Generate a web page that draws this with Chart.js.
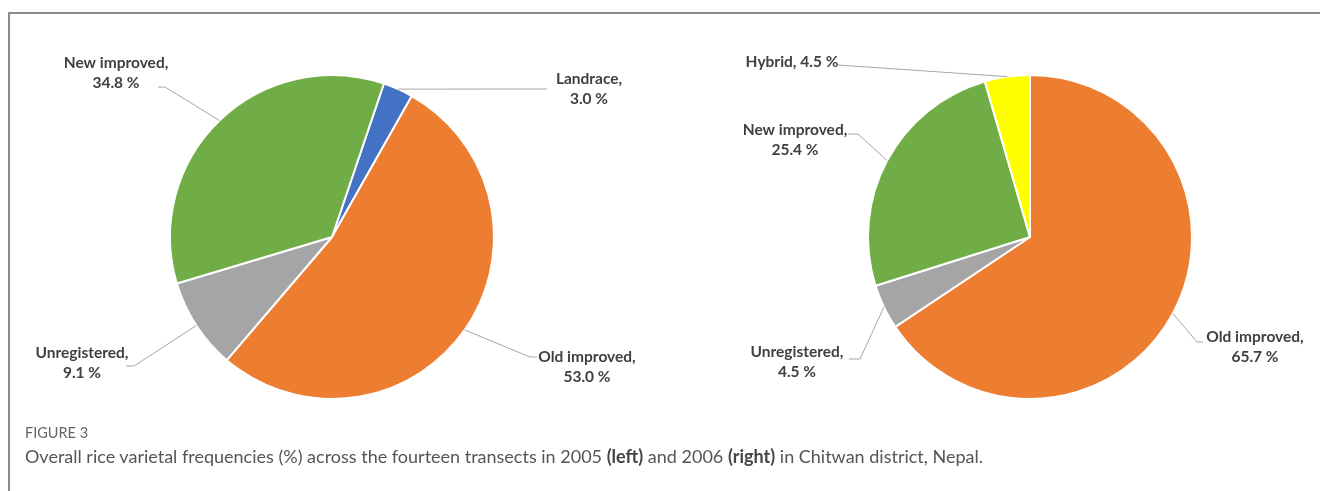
<!DOCTYPE html>
<html>
<head>
<meta charset="utf-8">
<title>Rice varietal frequencies, Chitwan</title>
<script src="https://cdn.jsdelivr.net/npm/chart.js@4.4.1/dist/chart.umd.min.js"></script>
<style>
  body { margin: 0; width: 1320px; height: 491px; overflow: hidden; background: #fff; position: relative; font-family: Lato, "Open Sans", sans-serif; }
  .frame { position: absolute; left: 8px; top: 12px; width: 1400px; height: 600px; border: 2px solid #8c8c8c; }
  canvas.pie { position: absolute; left: 0; top: 0; }
  .caption { position: absolute; left: 25px; top: 424px; color: #555; }
  .caption .fig { font-size: 14.5px; color: #666; }
  .caption .text { font-size: 18px; margin-top: 4px; white-space: nowrap; }
  .caption b { font-weight: 700; color: #444; }
</style>
</head>
<body>
<div class="frame"></div>
<canvas id="pie2005" class="pie" width="1320" height="491"></canvas>
<canvas id="pie2006" class="pie" width="1320" height="491"></canvas>
<div class="caption">
  <div class="fig">FIGURE 3</div>
  <div class="text">Overall rice varietal frequencies (%) across the fourteen transects in 2005 <b>(left)</b> and 2006 <b>(right)</b> in Chitwan district, Nepal.</div>
</div>

<script>
// 2005 transects
const categories2005 = ["Landrace", "Old improved", "Unregistered", "New improved"];
const values2005 = [3.0, 53.0, 9.1, 34.8];

// 2006 transects
const categories2006 = ["Old improved", "Unregistered", "New improved", "Hybrid"];
const values2006 = [65.7, 4.5, 25.4, 4.5];

const varietyColors = {
  "Landrace": "#4472C4",
  "Old improved": "#ED7D31",
  "Unregistered": "#A5A5A5",
  "New improved": "#70AD47",
  "Hybrid": "#FFFF00",
};

// label placement: text centre, first line y, and the leader line bends
const callouts2005 = [
  { cx: 589, cy: 79, path: [[547, 89]] },
  { cx: 587, cy: 357, path: [[530, 357], [537, 357]] },
  { cx: 82, cy: 353, path: [[134, 366], [126, 366]] },
  { cx: 116, cy: 63, path: [[165, 87], [158, 87]] },
];
const callouts2006 = [
  { cx: 1255, cy: 337, path: [[1197, 342], [1203, 342]] },
  { cx: 797, cy: 352, path: [[860, 359], [849, 359]] },
  { cx: 795, cy: 130, path: [[858, 134], [848, 134]] },
  { cx: 792, cy: 62, oneLine: true, path: [[838, 65]] },
];

// draws leader lines and "Name, xx.x %" labels next to each slice
const calloutPlugin = {
  id: "callouts",
  afterDatasetsDraw(chart, args, opts) {
    const ctx = chart.ctx;
    const meta = chart.getDatasetMeta(0);
    const labels = chart.data.labels;
    const values = chart.data.datasets[0].data;
    meta.data.forEach((arc, i) => {
      const c = opts.items[i];
      if (!c) return;
      const mid = (arc.startAngle + arc.endAngle) / 2;
      const ex = arc.x + Math.cos(mid) * arc.outerRadius;
      const ey = arc.y + Math.sin(mid) * arc.outerRadius;
      ctx.save();
      ctx.strokeStyle = "#a6a6a6";
      ctx.lineWidth = 1;
      ctx.beginPath();
      ctx.moveTo(ex, ey);
      c.path.forEach((p) => ctx.lineTo(p[0], p[1]));
      ctx.stroke();

      ctx.fillStyle = "#404040";
      ctx.font = "bold 15.5px Lato";
      ctx.textAlign = "center";
      ctx.textBaseline = "middle";
      let valueText = values[i].toFixed(1) + " %";
      if (c.oneLine) {
        ctx.fillText(labels[i] + ", " + valueText, c.cx, c.cy);
      } else {
        ctx.fillText(labels[i] + ",", c.cx, c.cy);
        ctx.fillText(valueText, c.cx, c.cy + 20);
      }
      ctx.restore();
    });
  },
};

function makePie(canvasId, categories, values, rotation, padding, callouts) {
  return new Chart(document.getElementById(canvasId), {
    type: "pie",
    data: {
      labels: categories,
      datasets: [
        {
          data: values,
          backgroundColor: categories.map((c) => varietyColors[c]),
          borderColor: "#ffffff",
          borderWidth: 2,
          radius: 162,
        },
      ],
    },
    options: {
      responsive: false,
      animation: false,
      events: [],
      rotation: rotation,
      layout: { padding: padding },
      plugins: {
        legend: { display: false },
        tooltip: { enabled: false },
        callouts: { items: callouts },
      },
    },
    plugins: [calloutPlugin],
  });
}

makePie("pie2005", categories2005, values2005, 18.7,
  { left: 0, right: 656, top: 0, bottom: 17 }, callouts2005);
makePie("pie2006", categories2006, values2006, 0,
  { left: 740, right: 0, top: 0, bottom: 17 }, callouts2006);
</script>
</body>
</html>
